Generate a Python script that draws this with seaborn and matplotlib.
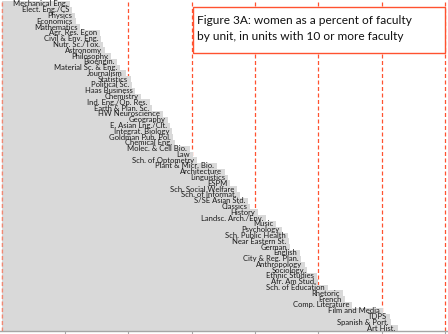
import matplotlib
matplotlib.use("Agg")
import matplotlib.pyplot as plt
import matplotlib.patches as mpatches
import seaborn as sns
import pandas as pd

units = [
    "Mechanical Eng.", "Elect. Eng./CS", "Physics", "Economics", "Mathematics",
    "Agr. Res. Econ", "Civil & Env. Eng.", "Nutr. Sc./Tox.", "Astronomy", "Philosophy",
    "Bioengin.", "Material Sc. & Eng.", "Journalism", "Statistics", "Political Sc.",
    "Haas Business", "Chemistry", "Ind. Eng./Op. Res.", "Earth & Plan. Sc.", "HW Neuroscience",
    "Geography", "E. Asian Lng./Clt.", "Integrat. Biology", "Goldman Pub. Pol.", "Chemical Eng.",
    "Molec. & Cell Bio.", "Law", "Sch. of Optometry", "Plant & Micr. Bio.", "Architecture",
    "Linguistics", "ESPM", "Sch. Social Welfare", "Sch. of Informat.", "S/SE Asian Std.",
    "Classics", "History", "Landsc. Arch./Env.", "Music", "Psychology",
    "Sch. Public Health", "Near Eastern St.", "German", "English", "City & Reg. Plan.",
    "Anthropology", "Sociology", "Ethnic Studies", "Afr. Am Stud.", "Sch. of Education",
    "Rhetoric", "French", "Comp. Literature", "Film and Media", "TDPS",
    "Spanish & Port.", "Art Hist.",
]
pct_women = [
    10.8, 11.1, 11.6, 11.7, 12.4,
    15.5, 15.7, 16.0, 16.3, 17.3,
    18.2, 18.7, 19.6, 20.4, 20.6,
    21.1, 22.0, 23.4, 23.7, 25.5,
    26.3, 26.6, 26.9, 27.1, 27.4,
    29.7, 30.2, 30.8, 34.0, 35.3,
    35.8, 36.1, 37.2, 37.6, 38.9,
    39.2, 40.5, 41.8, 43.3, 44.3,
    45.3, 45.4, 45.5, 47.1, 47.3,
    47.9, 48.2, 49.8, 50.0, 51.5,
    53.9, 54.2, 55.3, 60.2, 61.3,
    61.5, 62.6,
]
ref_lines = [0, 10, 20, 30, 40, 50, 60, 70]
title_lines = ["Figure 3A: women as a percent of faculty",
               "by unit, in units with 10 or more faculty"]

df = pd.DataFrame({"unit": units, "pct": pct_women})

sns.set_style("white")
plt.rcParams["font.family"] = ["Lato", "DejaVu Sans"]

W, H = 448, 334
fig = plt.figure(figsize=(W / 100, H / 100), dpi=100)
px_per_10 = 63.3
x0_px = 1.7
ax = fig.add_axes([0, 3 / H, 1, 330 / H])

red = "#FF5230"
dash = (0, (3.2, 2.0))
for v in ref_lines:
    ax.axvline(v, color=red, lw=0.9, ls=dash, zorder=0)

sns.barplot(data=df, x="pct", y="unit", orient="h", color="#D9D9D9",
            width=1.0, linewidth=0, saturation=1, ax=ax, zorder=2)

for i, (u, v) in enumerate(zip(units, pct_women)):
    ax.annotate(u, xy=(v, i), xytext=(-2, 0), textcoords="offset points",
                ha="right", va="center", fontsize=5.5, color="#1a1a1a", zorder=3)

# left reference line visible over bar start
ax.axvline(0, color=red, lw=0.9, ls=dash, zorder=4, alpha=0.6)

ax.set_xlim(-x0_px / px_per_10 * 10, (W - x0_px) / px_per_10 * 10)
ax.set_ylim(len(units) - 0.5, -0.5)
ax.set_xticks(ref_lines[1:])
ax.set_yticks([])
ax.set_xlabel("")
ax.set_ylabel("")
ax.tick_params(axis="x", which="both", bottom=True, length=3, color="#A6A6A6",
               labelbottom=False, direction="out")
for s in ["top", "right", "left"]:
    ax.spines[s].set_visible(False)
ax.spines["bottom"].set_color("#A6A6A6")
ax.spines["bottom"].set_linewidth(1.0)

# title box
bx0, by_top, bx1, by_bot = 193, 7, 445, 53
rect = mpatches.Rectangle((bx0 / W, 1 - by_bot / H), (bx1 - bx0) / W, (by_bot - by_top) / H,
                          transform=fig.transFigure, facecolor="white",
                          edgecolor=red, lw=1.0, zorder=10)
fig.add_artist(rect)
fig.text(197 / W, 1 - 21 / H, title_lines[0], ha="left", va="center",
         fontsize=8.6, color="#111111", zorder=11)
fig.text(197 / W, 1 - 37 / H, title_lines[1], ha="left", va="center",
         fontsize=8.6, color="#111111", zorder=11)

fig.savefig("out.png", dpi=100)
